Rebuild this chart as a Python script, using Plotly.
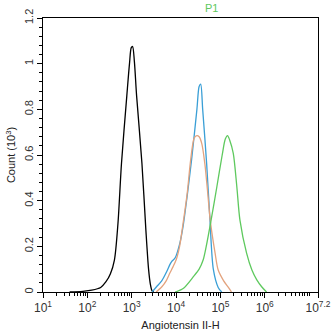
import numpy as np
import plotly.graph_objects as go

# log10 fluorescence intensity and event counts (x10^3) for each histogram
black_log = [1.6, 1.9, 2.1, 2.3, 2.42, 2.52, 2.61, 2.69, 2.77, 2.89, 2.95, 2.99, 3.02, 3.06, 3.11, 3.23, 3.32, 3.38, 3.42, 3.46, 3.5]
black_cnt = [0.0, 0.003, 0.008, 0.02, 0.045, 0.08, 0.14, 0.3, 0.565, 0.86, 1.0, 1.07, 1.075, 1.01, 0.86, 0.565, 0.27, 0.1, 0.035, 0.005, 0.0]

blue_log = [3.46, 3.56, 3.68, 3.79, 3.86, 3.90, 3.98, 4.08, 4.16, 4.25, 4.35, 4.47, 4.52, 4.555, 4.60, 4.69, 4.76, 4.84, 4.95, 5.03]
blue_cnt = [0.0, 0.023, 0.05, 0.09, 0.12, 0.133, 0.15, 0.21, 0.29, 0.42, 0.58, 0.80, 0.9, 0.91, 0.80, 0.56, 0.33, 0.1, 0.02, 0.0]

orange_log = [3.55, 3.68, 3.78, 3.86, 3.93, 4.0, 4.08, 4.15, 4.25, 4.33, 4.41, 4.47, 4.52, 4.58, 4.65, 4.72, 4.77, 4.88, 4.95, 5.07, 5.18, 5.25]
orange_cnt = [0.0, 0.023, 0.05, 0.083, 0.11, 0.14, 0.2, 0.29, 0.43, 0.58, 0.675, 0.685, 0.68, 0.65, 0.56, 0.42, 0.315, 0.17, 0.096, 0.05, 0.02, 0.0]

green_log = [3.98, 4.16, 4.39, 4.52, 4.61, 4.68, 4.79, 4.92, 5.04, 5.11, 5.16, 5.21, 5.29, 5.37, 5.44, 5.59, 5.71, 5.82, 5.93, 6.04]
green_cnt = [0.0, 0.015, 0.067, 0.1, 0.14, 0.2, 0.315, 0.461, 0.6, 0.67, 0.685, 0.665, 0.607, 0.461, 0.315, 0.17, 0.096, 0.053, 0.023, 0.0]

series = [
    (black_log, black_cnt, "#000000"),
    (blue_log, blue_cnt, "#3a9fd6"),
    (orange_log, orange_cnt, "#e3a37e"),
    (green_log, green_cnt, "#5ec95e"),
]

x_major = [1, 2, 3, 4, 5, 6, 7.2]
x_major_text = ["10<sup>1</sup>", "10<sup>2</sup>", "10<sup>3</sup>", "10<sup>4</sup>",
                "10<sup>5</sup>", "10<sup>6</sup>", "10<sup>7.2</sup>"]
y_ticks = [0, 0.2, 0.4, 0.6, 0.8, 1.0, 1.2]
y_text = ["0", "0.2", "0.4", "0.6", "0.8", "1", "1.2"]

fig = go.Figure()
for lg, cnt, col in series:
    fig.add_trace(go.Scatter(
        x=[10 ** v for v in lg], y=cnt, mode="lines",
        line=dict(color=col, width=1.3, shape="spline", smoothing=0.8),
        showlegend=False, hoverinfo="skip",
    ))

minor_x = [m * 10 ** d for d in range(1, 7) for m in range(2, 10)] + [1e7]

fig.update_layout(
    width=332, height=335,
    margin=dict(l=43, r=14, t=18, b=43, autoexpand=False),
    paper_bgcolor="white", plot_bgcolor="white",
    font=dict(family="Liberation Sans, Arial, sans-serif", color="#333333", size=11),
    annotations=[dict(text="P1", xref="x domain", yref="paper", x=(211 - 43) / 275, y=1.0,
                      yanchor="bottom", yshift=2, showarrow=False,
                      font=dict(color="#5ec95e", size=11))],
)

fig.update_xaxes(
    type="log", range=[1, 7.2], automargin=False,
    tickmode="array", tickvals=[10 ** v for v in x_major], ticktext=x_major_text,
    ticks="outside", ticklen=5, tickcolor="black",
    showline=True, linecolor="black", linewidth=1, mirror=True,
    showgrid=False, zeroline=False,
    tickfont=dict(size=12, color="#333333"),
    title=dict(text="Angiotensin II-H", font=dict(size=11, color="#222222"), standoff=6),
    minor=dict(tickmode="array", tickvals=minor_x, ticks="outside", ticklen=3,
               tickcolor="black", showgrid=False),
)
fig.update_yaxes(
    range=[0, 1.2], automargin=False,
    tickmode="array", tickvals=y_ticks, ticktext=y_text, tickangle=-90,
    ticks="outside", ticklen=5, tickcolor="black",
    showline=True, linecolor="black", linewidth=1, mirror=True,
    showgrid=False, zeroline=False,
    tickfont=dict(size=11, color="#333333"),
    title=dict(text="Count (10<sup>3</sup>)", font=dict(size=11, color="#222222"), standoff=4),
    minor=dict(dtick=0.04, ticks="outside", ticklen=3, tickcolor="black", showgrid=False),
)

fig.write_html("out.html")
